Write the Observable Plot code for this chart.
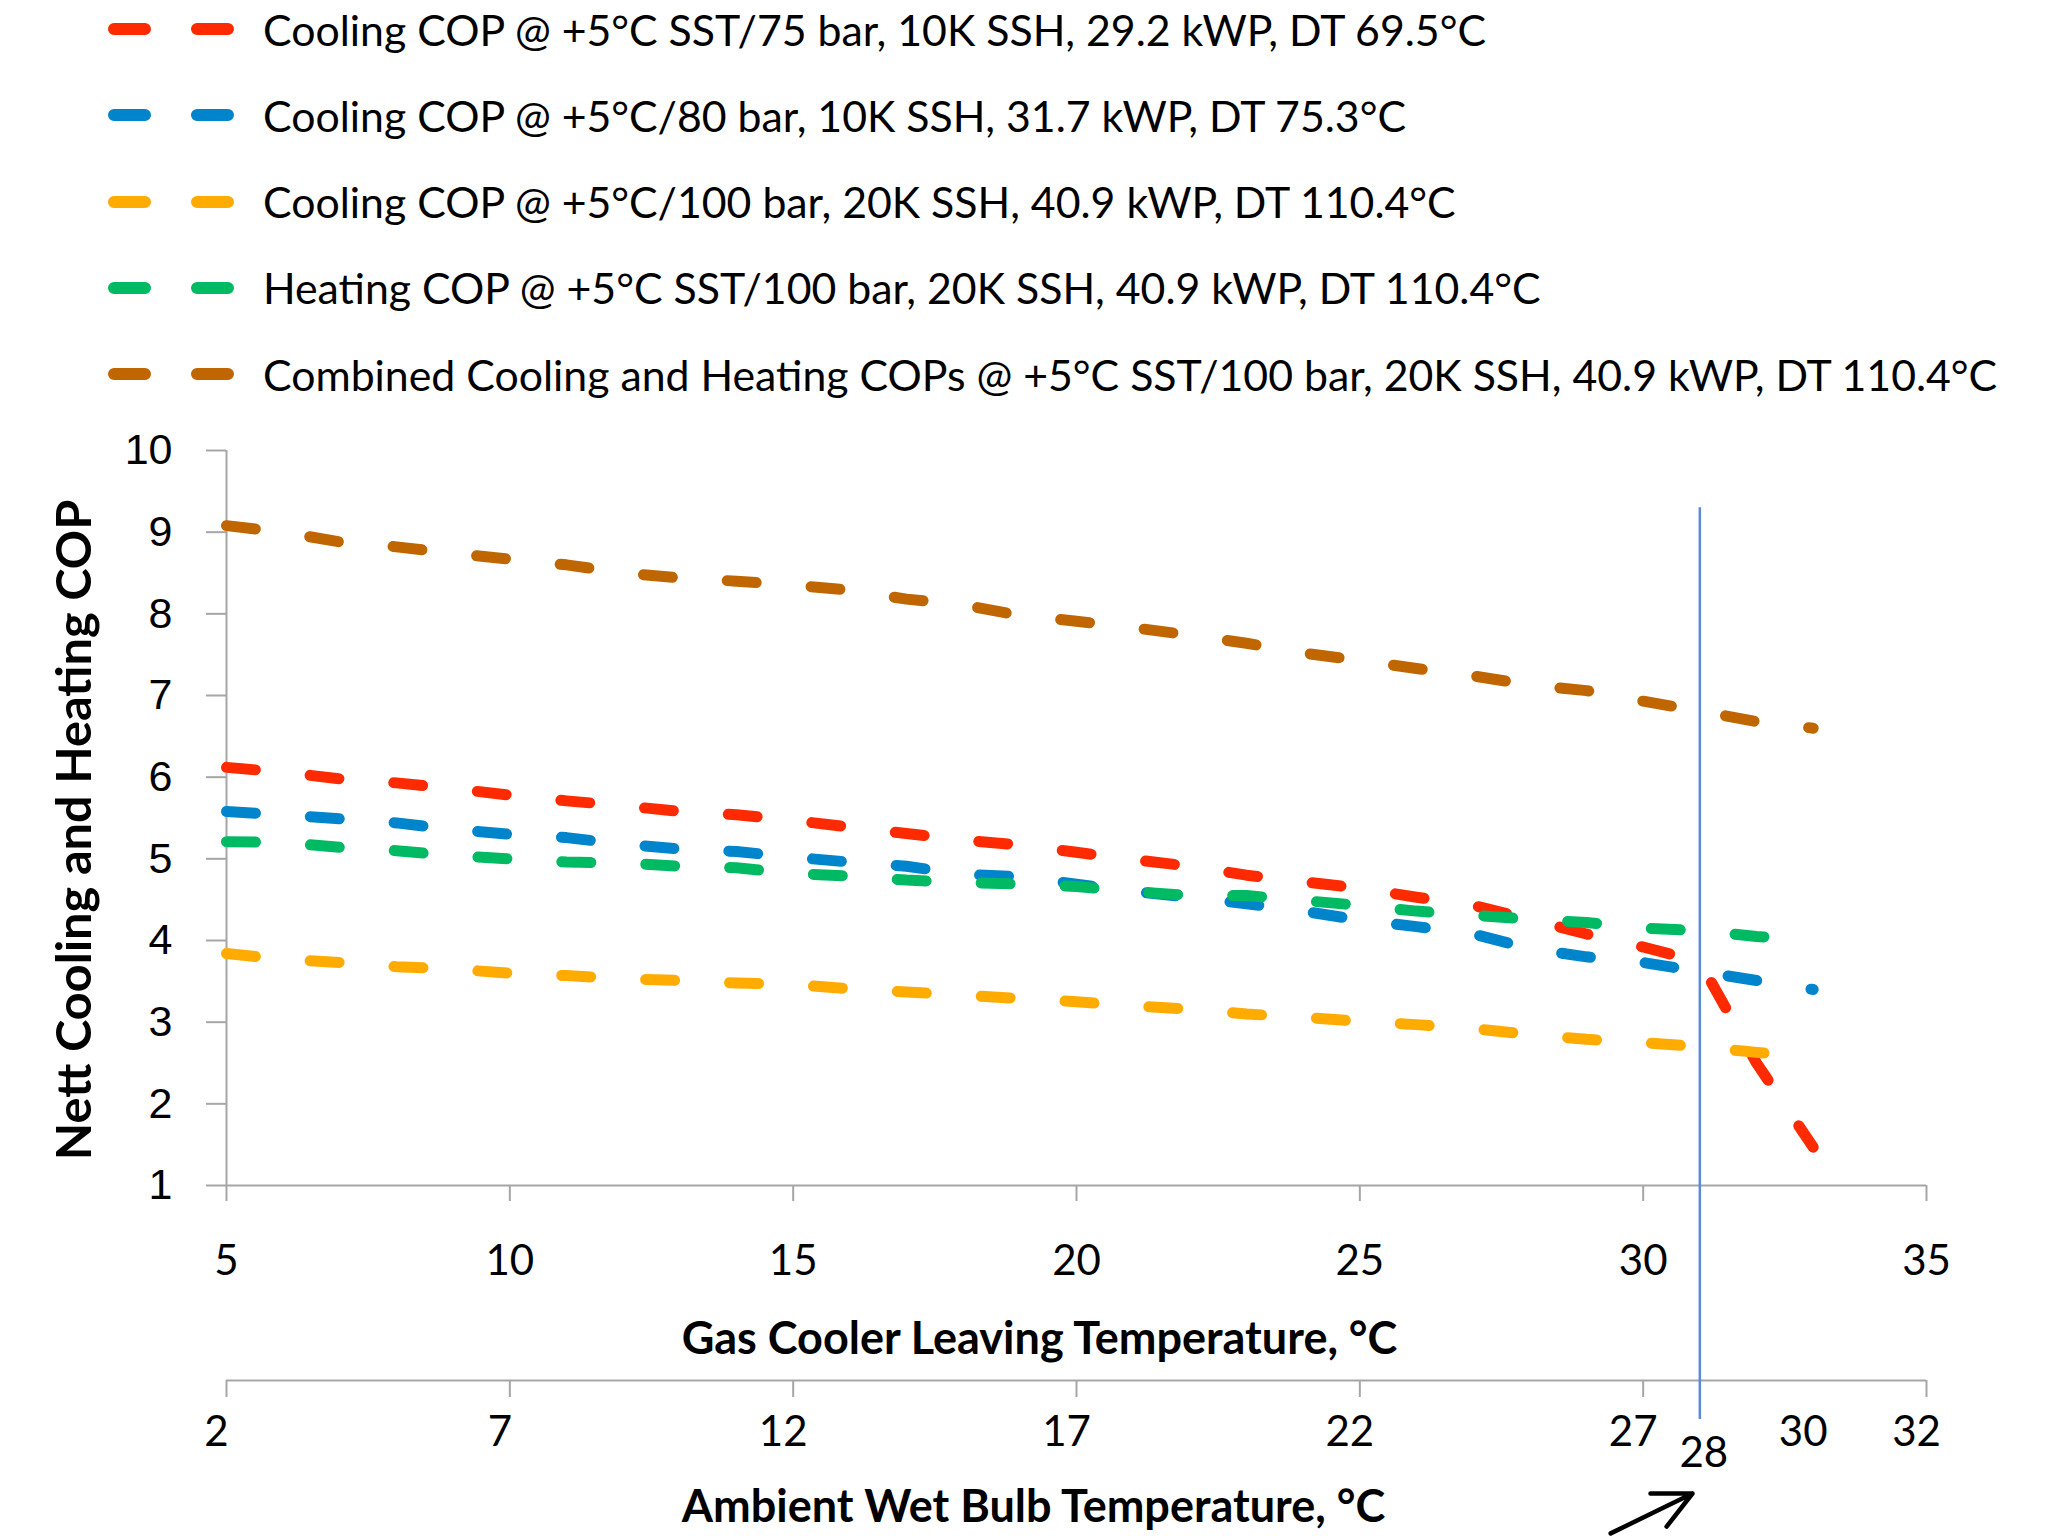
<!DOCTYPE html>
<html><head><meta charset="utf-8">
<script src="https://cdn.jsdelivr.net/npm/d3@7"></script>
<script src="https://cdn.jsdelivr.net/npm/@observablehq/plot@0.6"></script>
<style>
html,body{margin:0;padding:0;background:#fff;}
#root{position:relative;width:2064px;height:1536px;overflow:hidden;background:#fff;}
#legend{position:absolute;left:0;top:-14px;font-family:Lato,sans-serif;font-size:42.8px;color:#000;}
.row{height:86.25px;display:flex;align-items:center;white-space:nowrap;}
.row svg{flex:none;}
#chart{position:absolute;left:0;top:410px;}
</style></head><body><div id="root"><div id="legend"></div><div id="chart"></div></div>
<script>
// Gas cooler leaving temperature, °C
const gcl = [5,6,7,8,9,10,11,12,13,14,15,16,17,18,19,20,21,22,23,24,25,26,27,28,29,30,31,32,33];
const cooling75 = [6.12,6.06,5.98,5.93,5.86,5.78,5.71,5.65,5.58,5.54,5.47,5.39,5.31,5.23,5.17,5.08,4.99,4.91,4.80,4.72,4.64,4.53,4.43,4.26,4.08,3.92,3.74,2.50,1.47];
const cooling80 = [5.58,5.54,5.49,5.44,5.36,5.30,5.26,5.18,5.12,5.09,5.02,4.96,4.91,4.81,4.78,4.69,4.60,4.53,4.45,4.36,4.25,4.17,4.08,3.90,3.80,3.73,3.62,3.51,3.40];
const cooling100 = [3.84,3.77,3.73,3.68,3.65,3.60,3.57,3.53,3.51,3.48,3.46,3.41,3.37,3.33,3.29,3.25,3.20,3.16,3.10,3.06,3.01,2.97,2.92,2.85,2.79,2.75,2.70,2.63,2.57];
const heating100 = [5.21,5.20,5.14,5.10,5.04,5.00,4.96,4.95,4.91,4.89,4.82,4.79,4.74,4.71,4.69,4.66,4.60,4.55,4.55,4.49,4.43,4.36,4.31,4.26,4.22,4.15,4.12,4.05,4.00];
const combined100 = [9.08,9.00,8.88,8.82,8.74,8.67,8.60,8.50,8.44,8.40,8.35,8.29,8.18,8.11,7.98,7.91,7.83,7.74,7.64,7.52,7.43,7.33,7.24,7.13,7.06,6.93,6.81,6.68,6.60];

const seriesNames = [
  "Cooling COP @ +5°C SST/75 bar, 10K SSH, 29.2 kWP, DT 69.5°C",
  "Cooling COP @ +5°C/80 bar, 10K SSH, 31.7 kWP, DT 75.3°C",
  "Cooling COP @ +5°C/100 bar, 20K SSH, 40.9 kWP, DT 110.4°C",
  "Heating COP @ +5°C SST/100 bar, 20K SSH, 40.9 kWP, DT 110.4°C",
  "Combined Cooling and Heating COPs @ +5°C SST/100 bar, 20K SSH, 40.9 kWP, DT 110.4°C"
];
const seriesValues = [cooling75, cooling80, cooling100, heating100, combined100];
const seriesColors = ["#FF2A00", "#0084CB", "#FFAB00", "#00BA63", "#C06600"];

const xTicks = [5,10,15,20,25,30,35];
const yTicks = [1,2,3,4,5,6,7,8,9,10];
const wbTicks = [2,7,12,17,22,27,32];
const wbLabels = [2,7,12,17,22,27,30,32];
const approach = 3; // wet bulb = gas cooler leaving − 3 K
const marker = [{gcl: 31, wb: 28, top: 9.3}];
const arrowNote = [{wb: 27.87}];

const xTitle = "Gas Cooler Leaving Temperature, °C";
const wbTitle = "Ambient Wet Bulb Temperature, °C";
const yTitle = "Nett Cooling and Heating COP";

const gray = "#A6A6A6";
const dash = "29,55";

// legend
const legend = d3.select("#legend");
seriesNames.forEach((name, k) => {
  const row = legend.append("div").attr("class", "row");
  const s = row.append("svg").attr("width", 263).attr("height", 20);
  s.append("line").attr("x1", 114).attr("x2", 228).attr("y1", 10).attr("y2", 10)
    .attr("stroke", seriesColors[k]).attr("stroke-width", 12)
    .attr("stroke-linecap", "round").attr("stroke-dasharray", "31,52");
  row.append("span").text(name);
});

const rows = seriesNames.flatMap((name, k) => gcl.map((x, i) => ({x, y: seriesValues[k][i], name})));

const arrowShape = {
  draw(context, l) {
    const h = 42, a = 26 * Math.PI / 180;
    context.moveTo(0, 0);
    context.lineTo(0, -l);
    context.moveTo(-h * Math.sin(a), -l + h * Math.cos(a));
    context.lineTo(0, -l);
    context.lineTo(h * Math.sin(a), -l + h * Math.cos(a));
  }
};

const chart = Plot.plot({
  width: 2064,
  height: 1126,
  marginLeft: 226,
  marginRight: 138,
  marginTop: 40,
  marginBottom: 351,
  style: {fontFamily: "Lato, sans-serif", fontSize: "40px", background: "white", overflow: "visible"},
  x: {domain: [5, 35]},
  y: {domain: [1, 10]},
  color: {domain: seriesNames, range: seriesColors},
  marks: [
    Plot.ruleX([5], {stroke: gray, strokeWidth: 2}),
    Plot.ruleY([1], {stroke: gray, strokeWidth: 2}),
    Plot.axisY(yTicks, {tickSize: 20, tickPadding: 34, tickFormat: d => String(d), stroke: gray, strokeWidth: 2, fill: "black",
      fontFamily: "Liberation Sans, Arial, sans-serif", fontSize: 43}),
    Plot.axisX(xTicks, {tickSize: 16, tickPadding: 44, tickFormat: d => String(d), stroke: gray, strokeWidth: 2, fill: "black",
      fontFamily: "Lato, sans-serif", fontSize: 42}),
    Plot.text([xTitle], {text: d => d, frameAnchor: "bottom", dy: 154, dx: -37, lineAnchor: "middle",
      fontWeight: "bold", fontSize: 45, fontFamily: "Lato, sans-serif", fill: "black"}),
    Plot.text([yTitle], {text: d => d, frameAnchor: "left", rotate: -90, dx: -151, dy: 12, lineAnchor: "middle",
      textAnchor: "middle", fontWeight: "bold", fontSize: 48.6, fontFamily: "Lato, sans-serif", fill: "black"}),
    // secondary (wet bulb) axis
    Plot.ruleY([1], {dy: 195, stroke: gray, strokeWidth: 2}),
    Plot.axisX(wbTicks.map(t => t + approach), {tickSize: 17, dy: 195, stroke: gray, strokeWidth: 2, fill: "none"}),
    Plot.text(wbLabels, {x: d => d + approach, text: d => String(d), frameAnchor: "bottom", dy: 247, dx: -10,
      lineAnchor: "middle", fontSize: 42, fontFamily: "Lato, sans-serif", fill: "black"}),
    Plot.text(marker, {x: d => d.wb + approach, text: d => String(d.wb), frameAnchor: "bottom", dy: 268, dx: 4,
      lineAnchor: "middle", fontSize: 42, fontFamily: "Lato, sans-serif", fill: "black"}),
    Plot.text([wbTitle], {text: d => d, frameAnchor: "bottom", dy: 322, dx: -43, lineAnchor: "middle",
      fontWeight: "bold", fontSize: 45, fontFamily: "Lato, sans-serif", fill: "black"}),
    // 28 °C wet bulb marker
    Plot.ruleX(marker, {x: "gcl", y1: "top", y2: 1, insetBottom: -234, stroke: "#5A8BD6", strokeWidth: 2.5}),
    Plot.vector(arrowNote, {x: d => d.wb + approach, frameAnchor: "bottom", dy: 308, length: 91, rotate: 64,
      anchor: "end", shape: arrowShape, stroke: "black", strokeWidth: 4.5, strokeLinecap: "round"}),
    // series
    Plot.line(rows, {x: "x", y: "y", z: "name", stroke: "name", strokeWidth: 11,
      strokeDasharray: dash, strokeLinecap: "round", strokeLinejoin: "round"})
  ]
});
document.getElementById("chart").appendChild(chart);
</script>
</body></html>
